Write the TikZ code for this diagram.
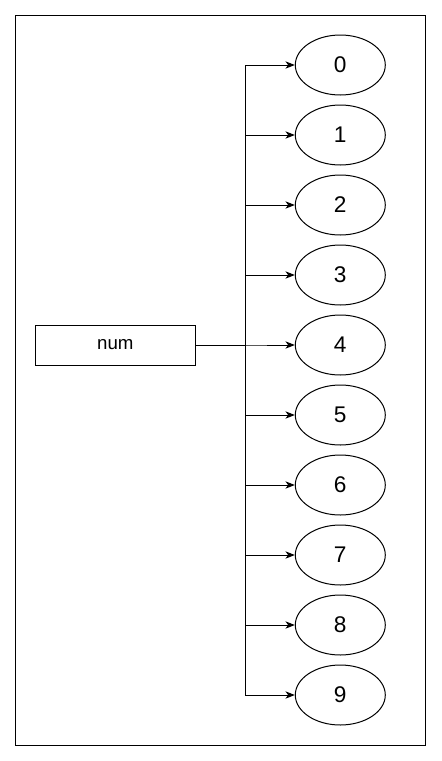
\documentclass[tikz,border=0pt]{standalone}
\usepackage{fontspec}
\setmainfont{Liberation Sans}
\usetikzlibrary{arrows.meta,shapes.geometric}
\begin{document}
\begin{tikzpicture}[x=0.75pt,y=-0.75pt,
  line width=0.75pt,
  frame/.style={draw,line width=0.75pt},
  numbox/.style={draw,minimum width=120pt,minimum height=30pt,inner sep=0pt,font=\fontsize{14}{16}\selectfont},
  digit/.style={draw,ellipse,minimum width=67.5pt,minimum height=45pt,inner sep=0pt,font=\fontsize{17}{20}\selectfont},
  arr/.style={-{Stealth[length=7pt,width=5.5pt,inset=2pt]}}]
\useasboundingbox (0,0) rectangle (442,761);
\draw[frame] (15.5,15.5) rectangle (425.5,745);
\node[numbox] (num) at (115.3,345) {num};
\foreach \i in {0,...,9}{
  \node[digit] (e\i) at (340.3,{65+70*\i}) {\i};
}
\coordinate (j) at (245.7,345);
\foreach \i in {0,...,9}{
  \draw[arr] (num.east) -- (j) |- (e\i.west);
}
\end{tikzpicture}
\end{document}
